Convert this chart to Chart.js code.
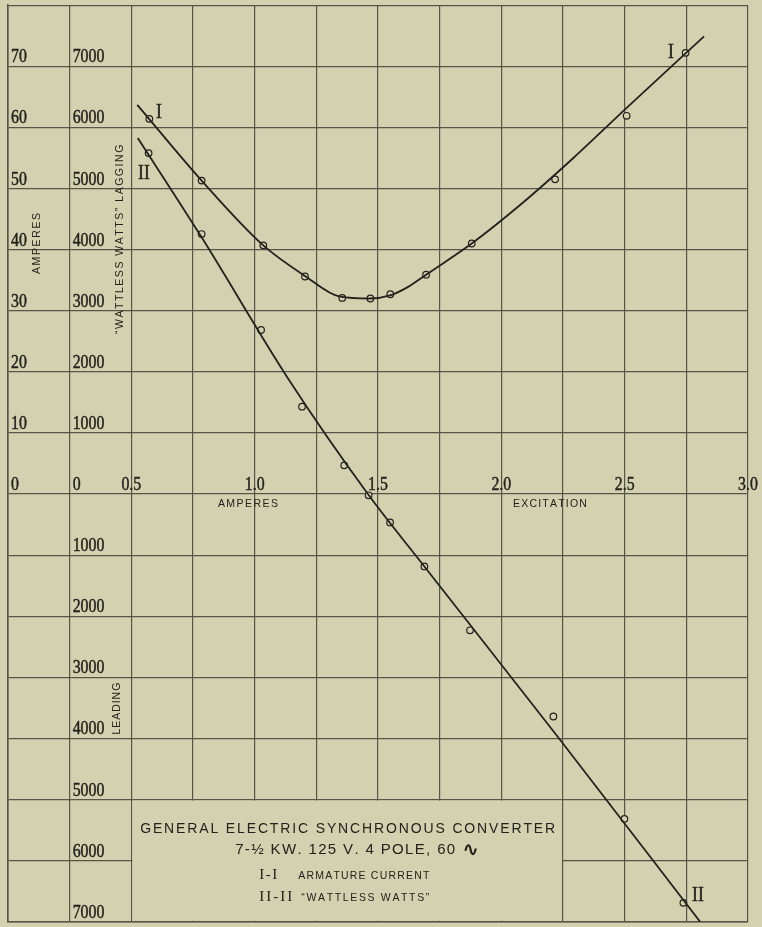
<!DOCTYPE html>
<html>
<head>
<meta charset="utf-8">
<script src="https://cdn.jsdelivr.net/npm/chart.js@4.4.1/dist/chart.umd.min.js"></script>
<style>
  html, body { margin: 0; padding: 0; background: #d3d1af; }
  #wrap { width: 762px; height: 927px; position: relative; }
</style>
</head>
<body>
<div id="wrap"><canvas id="myChart"></canvas></div>
<script>
// I-I armature current (amperes) against excitation (amperes)
var excitationI = [0.573, 0.785, 1.035, 1.204, 1.355, 1.469, 1.550, 1.695, 1.880, 2.218, 2.508, 2.747];
var armatureCurrent = [61.4, 51.3, 40.7, 35.6, 32.1, 32.0, 32.7, 35.9, 41.0, 51.5, 61.9, 72.2];

// II-II "wattless watts" (+ lagging, - leading)
var excitationII = [0.570, 0.785, 1.026, 1.192, 1.363, 1.462, 1.549, 1.688, 1.873, 2.211, 2.499, 2.738];
var wattlessWatts = [5580, 4255, 2685, 1430, 470, -20, -465, -1185, -2230, -3640, -5315, -6690];

// hand drawn curves through the points
var curveIx = [0.524, 0.785, 1.035, 1.204, 1.346, 1.468, 1.549, 1.622, 1.695, 1.880, 2.076, 2.292, 2.508, 2.749, 2.822];
var curveIy = [63.7, 51.3, 40.7, 35.7, 32.3, 32.0, 32.5, 33.9, 35.9, 41.0, 47.3, 55.0, 63.2, 72.2, 74.9];
var curveIIx = [0.526, 0.785, 1.136, 1.462, 1.688, 2.231, 2.806];
var curveIIy = [5827, 4201, 1886, -17, -1185, -3984, -7000];

// tick labels
var excitationTicks = [0.5, 1.0, 1.5, 2.0, 2.5, 3.0];
var ampereTicks = [70, 60, 50, 40, 30, 20, 10, 0];
var wattTicks = [7000, 6000, 5000, 4000, 3000, 2000, 1000, 0, -1000, -2000, -3000, -4000, -5000, -6000, -7000];

var bg = '#d3d1af';
var ink = '#23221d';
var gridInk = '#57554a';

function zip(xs, ys) {
  return xs.map(function (x, i) { return { x: x, y: ys[i] }; });
}

// old condensed serif figures, a bit heavier than the plain font
function serif(ctx, text, x, y, align, size) {
  ctx.save();
  ctx.font = (size || 18) + 'px "Liberation Serif"';
  ctx.textAlign = align;
  ctx.textBaseline = 'alphabetic';
  ctx.translate(x, y);
  ctx.scale(0.88, 1);
  ctx.fillText(text, 0, 0);
  ctx.strokeStyle = ink;
  ctx.lineWidth = 0.45;
  ctx.strokeText(text, 0, 0);
  ctx.restore();
}

// text spread over a given width, starting at x
function spaced(ctx, text, x, y, width) {
  var chars = Array.from(text);
  var total = 0;
  chars.forEach(function (c) { total += ctx.measureText(c).width; });
  var gap = chars.length > 1 ? (width - total) / (chars.length - 1) : 0;
  var cx = x;
  chars.forEach(function (c) {
    ctx.fillText(c, cx, y);
    cx += ctx.measureText(c).width + gap;
  });
}

function vertical(ctx, text, x, yBottom, yTop, font) {
  ctx.save();
  ctx.font = font;
  ctx.textAlign = 'left';
  ctx.textBaseline = 'middle';
  ctx.translate(x, yBottom);
  ctx.rotate(-Math.PI / 2);
  spaced(ctx, text, 0, 0, yBottom - yTop);
  ctx.restore();
}

var paper = {
  id: 'paper',
  beforeDraw: function (chart) {
    var ctx = chart.ctx;
    ctx.save();
    ctx.fillStyle = bg;
    ctx.fillRect(0, 0, chart.width, chart.height);
    ctx.restore();
  },
  beforeDatasetsDraw: function (chart) {
    // blank cells for the title block
    var ctx = chart.ctx, xs = chart.scales.x, ys = chart.scales.y;
    var l = xs.getPixelForValue(0.5), r = xs.getPixelForValue(2.25);
    var t = ys.getPixelForValue(-5000), b = ys.getPixelForValue(-7000);
    ctx.save();
    ctx.fillStyle = bg;
    ctx.fillRect(l + 1, t + 1, r - l - 2, b - t - 2);
    ctx.restore();
  },
  afterDatasetsDraw: function (chart) {
    var ctx = chart.ctx, xs = chart.scales.x, ys = chart.scales.y, ya = chart.scales.yA;
    ctx.save();
    ctx.fillStyle = ink;

    ampereTicks.forEach(function (a) {
      serif(ctx, String(a), xs.getPixelForValue(0) + 3, ya.getPixelForValue(a) - 4, 'left');
    });
    wattTicks.forEach(function (w) {
      serif(ctx, String(Math.abs(w)), xs.getPixelForValue(0.25) + 3, ys.getPixelForValue(w) - 4, 'left');
    });
    excitationTicks.forEach(function (v) {
      serif(ctx, v.toFixed(1), xs.getPixelForValue(v), ys.getPixelForValue(0) - 4, 'center');
    });

    // curve marks
    serif(ctx, 'I', xs.getPixelForValue(0.612), ys.getPixelForValue(6255) + 6, 'center', 20);
    serif(ctx, 'II', xs.getPixelForValue(0.551), ys.getPixelForValue(5261) + 6, 'center', 20);
    serif(ctx, 'I', xs.getPixelForValue(2.688), ys.getPixelForValue(7234) + 6, 'center', 20);
    serif(ctx, 'II', xs.getPixelForValue(2.797), ys.getPixelForValue(-6560) + 6, 'center', 20);

    // axis words
    var sans = '10.5px "Liberation Sans"';
    ctx.font = sans;
    ctx.textBaseline = 'alphabetic';
    ctx.textAlign = 'left';
    var y0 = ys.getPixelForValue(0);
    spaced(ctx, 'AMPERES', xs.getPixelForValue(0.851), y0 + 13, 60);
    spaced(ctx, 'EXCITATION', xs.getPixelForValue(2.047), y0 + 13, 74);

    vertical(ctx, 'AMPERES', xs.getPixelForValue(0.118), ya.getPixelForValue(36), ya.getPixelForValue(46), sans);
    vertical(ctx, '\u201CWATTLESS WATTS\u201D LAGGING', xs.getPixelForValue(0.454),
      ys.getPixelForValue(2620), ys.getPixelForValue(5717), sans);
    vertical(ctx, 'LEADING', xs.getPixelForValue(0.442),
      ys.getPixelForValue(-3935), ys.getPixelForValue(-3087), sans);

    // title block
    var bl = xs.getPixelForValue(0.5), br = xs.getPixelForValue(2.25);
    var bt = ys.getPixelForValue(-5000);
    var bc = (bl + br) / 2;
    ctx.font = '14px "Liberation Sans"';
    spaced(ctx, 'GENERAL ELECTRIC SYNCHRONOUS CONVERTER', bc - 207, bt + 33, 415);
    var s2 = bc + 10 - 122;
    ctx.font = '15px "Liberation Sans"';
    spaced(ctx, '7-\u00BD KW. 125 V. 4 POLE, 60', s2, bt + 54, 220);
    ctx.font = 'bold 20px "DejaVu Sans"';
    ctx.fillText('\u223F', s2 + 227, bt + 56);

    ctx.font = '15px "Liberation Serif"';
    spaced(ctx, 'I-I', bl + 128, bt + 79, 18);
    spaced(ctx, 'II-II', bl + 128, bt + 101, 33);
    ctx.font = '10.5px "Liberation Sans"';
    spaced(ctx, 'ARMATURE CURRENT', bl + 167, bt + 79, 131);
    spaced(ctx, '\u201CWATTLESS WATTS\u201D', bl + 170, bt + 101, 128);

    ctx.restore();
  }
};

var ctx = document.getElementById('myChart').getContext('2d');

var config = {
  type: 'scatter',
  data: {
    datasets: [
      {
        label: 'I-I curve',
        data: zip(curveIx, curveIy),
        yAxisID: 'yA',
        showLine: true,
        borderColor: ink,
        borderWidth: 1.8,
        pointRadius: 0,
        cubicInterpolationMode: 'monotone'
      },
      {
        label: 'II-II curve',
        data: zip(curveIIx, curveIIy),
        yAxisID: 'y',
        showLine: true,
        borderColor: ink,
        borderWidth: 1.8,
        pointRadius: 0,
        cubicInterpolationMode: 'monotone'
      },
      {
        label: 'Armature current',
        data: zip(excitationI, armatureCurrent),
        yAxisID: 'yA',
        showLine: false,
        pointRadius: 3.3,
        pointBorderWidth: 1.2,
        pointBorderColor: ink,
        pointBackgroundColor: bg
      },
      {
        label: 'Wattless watts',
        data: zip(excitationII, wattlessWatts),
        yAxisID: 'y',
        showLine: false,
        pointRadius: 3.3,
        pointBorderWidth: 1.2,
        pointBorderColor: ink,
        pointBackgroundColor: bg
      }
    ]
  },
  options: {
    responsive: true,
    maintainAspectRatio: false,
    animation: false,
    events: [],
    layout: { padding: { left: 8, top: 5, right: 14, bottom: 2 } },
    plugins: { legend: { display: false }, tooltip: { enabled: false } },
    scales: {
      x: {
        type: 'linear',
        min: 0,
        max: 3,
        ticks: { stepSize: 0.25, display: false },
        grid: { color: gridInk, lineWidth: 1.2, drawTicks: false },
        border: { color: gridInk, width: 1.6 }
      },
      y: {
        type: 'linear',
        min: -7000,
        max: 8000,
        ticks: { stepSize: 1000, display: false },
        grid: { color: gridInk, lineWidth: 1.2, drawTicks: false },
        border: { color: gridInk, width: 1.6 }
      },
      yA: {
        type: 'linear',
        display: false,
        min: -70,
        max: 80
      }
    }
  },
  plugins: [paper]
};

var myChart = new Chart(ctx, config);
</script>
</body>
</html>
